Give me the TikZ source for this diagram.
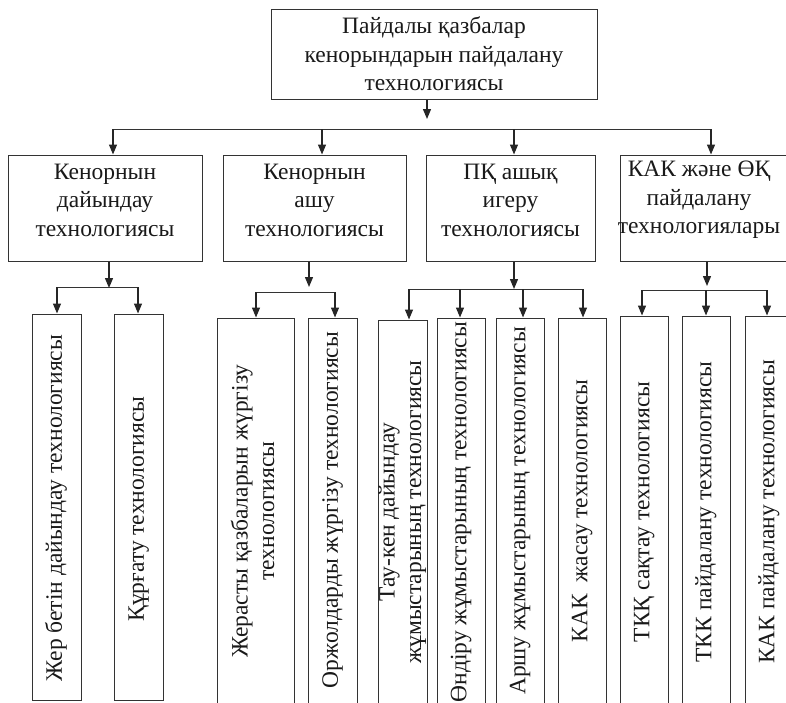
\documentclass[tikz,border=0pt]{standalone}
\usepackage{fontspec}
\setmainfont{Liberation Serif}
\usetikzlibrary{arrows.meta}
\begin{document}
\begin{tikzpicture}[x=1pt,y=-1pt,
  box/.style={draw=black!80, line width=1pt, inner sep=0pt},
  txt/.style={inner sep=0pt, align=center,
    font=\fontsize{23.5}{28.5}\selectfont, text=black!90},
  vtxt/.style={inner sep=0pt,
    font=\fontsize{23.5}{26.5}\selectfont, text=black!90},
  arr/.style={draw=black!85, line width=1.3pt, -{Triangle[length=10pt,width=8pt]}},
  ln/.style={draw=black!80, line width=1pt}]
\useasboundingbox (0,0) rectangle (786,702);
\newcommand{\vt}[1]{\rotatebox{90}{\begin{tabular}{@{}c@{}}#1\end{tabular}}}

% top
\node[box, minimum width=326pt, minimum height=90pt] (top) at (434,54) {};
\node[txt] (topt) at (434,54)
  {Пайдалы қазбалар\\кенорындарын пайдалану\\технологиясы};

% level 2
\node[box, minimum width=194pt, minimum height=106pt] (b1) at (105,208) {};
\node[txt] (b1t) at (105,200) {Кенорнын\\дайындау\\технологиясы};
\node[box, minimum width=183pt, minimum height=106pt] (b2) at (314.5,208) {};
\node[txt] (b2t) at (314.5,200) {Кенорнын\\ашу\\технологиясы};
\node[box, minimum width=169pt, minimum height=106pt] (b3) at (510.5,208) {};
\node[txt] (b3t) at (510.5,200) {ПҚ ашық\\игеру\\технологиясы};
\node[box, minimum width=180pt, minimum height=106pt] (b4) at (710,208) {};
\node[txt] (b4t) at (699,200) {КАК және ӨҚ\\пайдалану\\технологиялары};

% level 3 boxes
\node[box, minimum width=49pt, minimum height=386pt] (va) at (56.5,507) {};
\node[box, minimum width=49pt, minimum height=386pt] (vb) at (138.5,507) {};
\node[box, minimum width=77pt, minimum height=394pt] (vc) at (255.5,515) {};
\node[box, minimum width=49pt, minimum height=394pt] (vd) at (332.5,515) {};
\node[box, minimum width=49pt, minimum height=392pt] (ve) at (402.5,516) {};
\node[box, minimum width=48pt, minimum height=394pt] (vf) at (461,515) {};
\node[box, minimum width=48pt, minimum height=394pt] (vg) at (520,515) {};
\node[box, minimum width=48pt, minimum height=394pt] (vh) at (582,515) {};
\node[box, minimum width=48pt, minimum height=396pt] (vi) at (644,514) {};
\node[box, minimum width=48pt, minimum height=396pt] (vj) at (706,514) {};
\node[box, minimum width=48pt, minimum height=396pt] (vk) at (769,514) {};

% level 3 texts
\node[vtxt] (vat) at (56.5,508) {\vt{Жер бетін дайындау технологиясы}};
\node[vtxt] (vbt) at (138.5,509) {\vt{Құрғату технологиясы}};
\node[vtxt] (vct) at (255.5,511) {\vt{Жерасты қазбаларын жүргізу\\технологиясы}};
\node[vtxt] (vdt) at (332.5,510) {\vt{Оржолдарды жүргізу технологиясы}};
\node[vtxt] (vet) at (402.5,512) {\vt{Тау-кен дайындау\\жұмыстарының технологиясы}};
\node[vtxt] (vft) at (461,512) {\vt{Өндіру жұмыстарының технологиясы}};
\node[vtxt] (vgt) at (520,511) {\vt{Аршу жұмыстарының технологиясы}};
\node[vtxt] (vht) at (582,511) {\vt{КАК\ \ жасау технологиясы}};
\node[vtxt] (vit) at (644,512) {\vt{ТКҚ сақтау технологиясы}};
\node[vtxt] (vjt) at (706,512) {\vt{ТКК пайдалану технологиясы}};
\node[vtxt] (vkt) at (769,512) {\vt{КАК пайдалану технологиясы}};

% top -> level 2
\coordinate (t0) at (427,119);
\draw[arr] (top.south -| t0) -- (t0);
\coordinate (h1) at (113,129);
\coordinate (h2) at (322,129);
\coordinate (h3) at (514,129);
\coordinate (h4) at (711,129);
\draw[ln] (h1) -- (h4);
\draw[arr] (h1) -- (h1 |- b1.north);
\draw[arr] (h2) -- (h2 |- b2.north);
\draw[arr] (h3) -- (h3 |- b3.north);
\draw[arr] (h4) -- (h4 |- b4.north);

% group 1
\coordinate (g1) at (109,288);
\draw[arr] (b1.south -| g1) -- (g1);
\coordinate (g1a) at (57,287);
\coordinate (g1b) at (138,287);
\draw[ln] (g1a) -- (g1b);
\draw[arr] (g1a) -- (g1a |- va.north);
\draw[arr] (g1b) -- (g1b |- vb.north);

% group 2
\coordinate (g2) at (309,287);
\draw[arr] (b2.south -| g2) -- (g2);
\coordinate (g2a) at (256,292);
\coordinate (g2b) at (335,292);
\draw[ln] (g2a) -- (g2b);
\draw[arr] (g2a) -- (g2a |- vc.north);
\draw[arr] (g2b) -- (g2b |- vd.north);

% group 3
\coordinate (g3) at (514,289);
\draw[arr] (b3.south -| g3) -- (g3);
\coordinate (g3a) at (409,289);
\coordinate (g3b) at (460,289);
\coordinate (g3c) at (523,289);
\coordinate (g3d) at (583,289);
\draw[ln] (g3a) -- (g3d);
\draw[arr] (g3a) -- (g3a |- ve.north);
\draw[arr] (g3b) -- (g3b |- vf.north);
\draw[arr] (g3c) -- (g3c |- vg.north);
\draw[arr] (g3d) -- (g3d |- vh.north);

% group 4
\coordinate (g4) at (707,286);
\draw[arr] (b4.south -| g4) -- (g4);
\coordinate (g4a) at (642,290);
\coordinate (g4b) at (706,290);
\coordinate (g4c) at (767,290);
\draw[ln] (g4a) -- (g4c);
\draw[arr] (g4a) -- (g4a |- vi.north);
\draw[arr] (g4b) -- (g4b |- vj.north);
\draw[arr] (g4c) -- (g4c |- vk.north);
\end{tikzpicture}
\end{document}
